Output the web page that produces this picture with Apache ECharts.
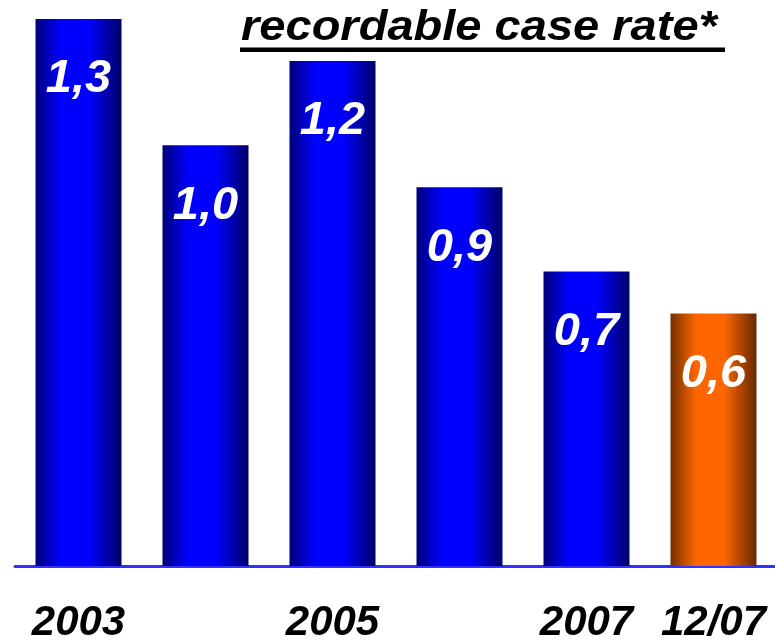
<!DOCTYPE html>
<html>
<head>
<meta charset="utf-8">
<script src="https://cdn.jsdelivr.net/npm/echarts@6/dist/echarts.min.js"></script>
<style>
  html, body { margin: 0; padding: 0; background: #fff; }
  #chart { width: 775px; height: 640px; }
</style>
</head>
<body>
<div id="chart"></div>
<script>
// Recordable case rate by year
const categories = ['2003', '2004', '2005', '2006', '2007', '12/07'];
const tickLabels = ['2003', '', '2005', '', '2007', '12/07'];
const rates = [1.3, 1.0, 1.2, 0.9, 0.7, 0.6];
const highlighted = ['12/07'];

const FONT = '"Liberation Sans", Arial, sans-serif';

// Cylindrical shading: dark edges, bright centre band
function barGradient(left, mid, right) {
  return new echarts.graphic.LinearGradient(0, 0, 1, 0, [
    { offset: 0, color: left },
    { offset: 0.3, color: mid },
    { offset: 0.62, color: mid },
    { offset: 1, color: right }
  ]);
}

const blueFill = barGradient('#00007a', '#0000ff', '#000068');
const orangeFill = barGradient('#733000', '#ff6600', '#662800');

const chart = echarts.init(document.getElementById('chart'), null, { renderer: 'canvas' });

chart.setOption({
  backgroundColor: '#ffffff',
  animation: false,
  grid: { left: 15, top: 0, width: 762, bottom: 74, containLabel: false, outerBoundsMode: 'none' },
  xAxis: {
    type: 'category',
    data: categories,
    axisTick: { show: false },
    axisLine: { show: true, lineStyle: { color: '#3030ff', width: 3 } },
    axisLabel: {
      interval: 0,
      margin: 36,
      color: '#000',
      fontFamily: FONT,
      fontSize: 42,
      fontWeight: 'bold',
      fontStyle: 'italic',
      formatter: (v, i) => tickLabels[i]
    }
  },
  yAxis: {
    type: 'value',
    min: 0,
    max: 1.345,
    show: false,
    splitLine: { show: false }
  },
  graphic: [
    {
      type: 'text',
      x: 241,
      y: 7,
      z: 100,
      scaleX: 1.12,
      style: {
        text: 'recordable case rate*',
        fill: '#000',
        font: 'italic bold 42px ' + FONT
      }
    },
    {
      type: 'rect',
      z: 100,
      shape: { x: 240, y: 47.5, width: 485, height: 4.5 },
      style: { fill: '#000' }
    }
  ],
  series: [{
    type: 'bar',
    barWidth: 86,
    data: rates.map((v, i) => ({
      value: v,
      itemStyle: { color: highlighted.includes(categories[i]) ? orangeFill : blueFill }
    })),
    label: {
      show: true,
      position: 'insideTop',
      distance: 37,
      color: '#fff',
      fontFamily: FONT,
      fontSize: 47,
      fontWeight: 'bold',
      fontStyle: 'italic',
      formatter: p => p.value.toFixed(1).replace('.', ',')
    }
  }]
});
</script>
</body>
</html>
